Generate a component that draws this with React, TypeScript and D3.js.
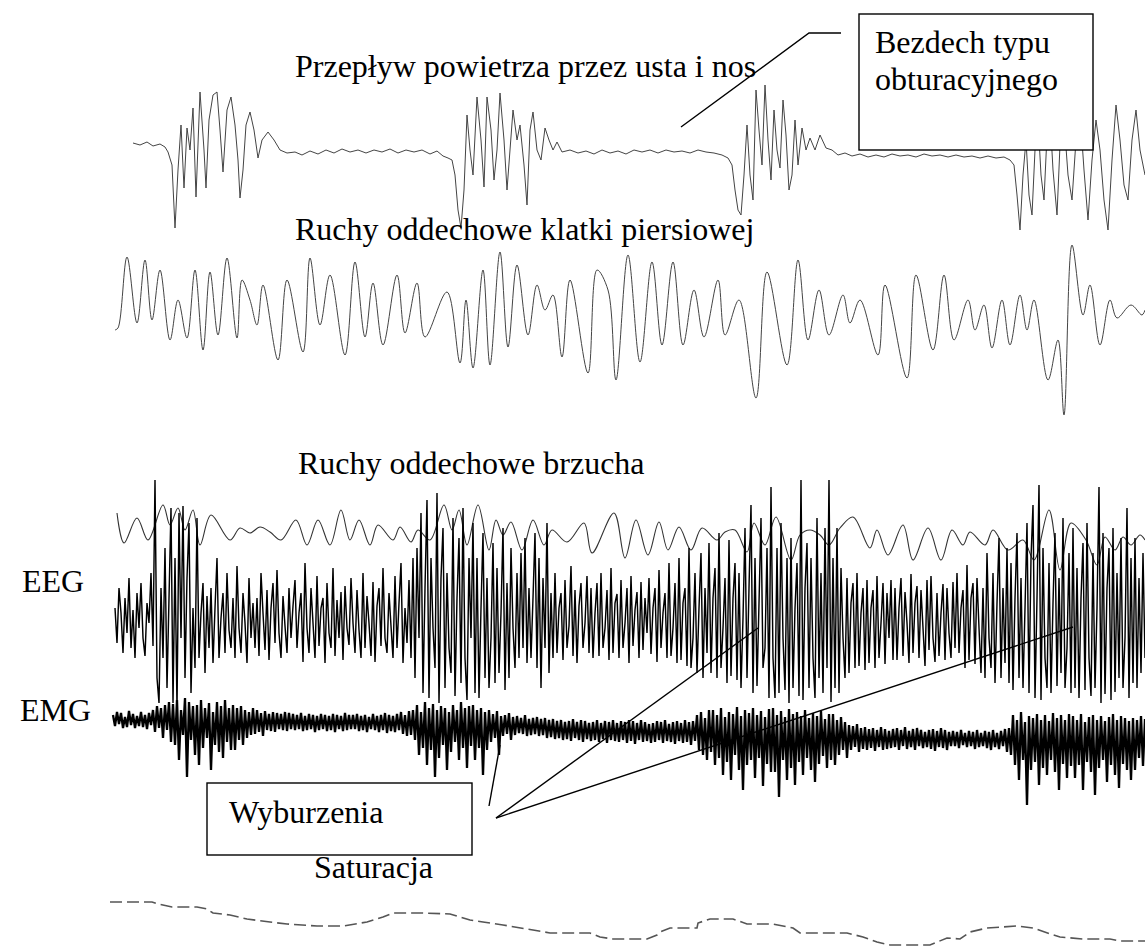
import React from 'react'
import * as d3 from 'd3'

const W = 1145
const H = 952

// time in samples (10 per second), values in arbitrary signal units (up = positive)
const flowT = [23, 30, 37, 43, 50, 55, 58, 62, 65, 68, 71, 74, 77, 80, 83, 86, 90, 94, 96, 99, 103, 107, 110, 113, 117, 121, 125, 128, 130, 133, 136, 140, 144, 148, 152, 158, 164, 170, 177, 185, 192, 200, 208, 216, 224, 232, 240, 248, 256, 264, 272, 280, 288, 296, 304, 312, 320, 327, 333, 338, 342, 345, 348, 351, 354, 357, 360, 363, 367, 371, 374, 377, 381, 384, 387, 390, 394, 397, 400, 403, 407, 410, 414, 417, 420, 423, 427, 431, 435, 439, 443, 447, 452, 460, 468, 476, 484, 492, 500, 508, 516, 524, 532, 540, 548, 556, 564, 572, 580, 588, 596, 604, 612, 618, 622, 625, 628, 631, 634, 637, 640, 643, 646, 649, 652, 655, 658, 661, 664, 667, 670, 673, 676, 679, 682, 685, 688, 692, 696, 700, 705, 710, 716, 722, 728, 735, 742, 750, 758, 766, 774, 782, 790, 798, 806, 814, 822, 830, 838, 846, 854, 862, 870, 878, 886, 894, 900, 904, 907, 910, 913, 916, 919, 922, 925, 928, 931, 934, 937, 940, 943, 947, 950, 954, 958, 962, 966, 970, 974, 978, 982, 986, 990, 994, 998, 1002, 1006, 1010, 1014, 1018, 1022, 1026, 1030, 1035]
const flowV = [2, 0, 3, -1, 1, -2, -7, -20, -83, -25, 20, -43, 17, -5, 37, -52, 53, -5, -43, 25, 50, 53, 15, -27, 35, 48, 20, -15, -53, -25, 20, 33, 15, -13, 5, 13, 5, -5, -8, -7, -10, -6, -9, -5, -8, -4, -7, -5, -8, -5, -7, -4, -8, -5, -7, -5, -9, -6, -11, -13, -15, -30, -65, -83, -45, 30, -5, -30, 48, 5, -42, 48, 15, -35, -5, 52, 5, -45, -5, 35, 5, 20, -20, -60, 15, 33, -5, -15, 17, 5, -5, 3, -7, -5, -8, -6, -9, -5, -8, -6, -9, -5, -7, -5, -8, -5, -7, -6, -8, -5, -7, -8, -10, -13, -20, -45, -65, -70, -30, 20, -30, -55, 55, 15, -20, 60, 5, -35, 35, -5, -23, 45, 10, -45, -30, 25, -20, 17, -5, 7, -5, 10, -3, -5, -10, -8, -11, -9, -12, -10, -12, -9, -11, -10, -12, -9, -11, -10, -12, -10, -12, -11, -13, -11, -13, -12, -15, -20, -50, -85, -30, 5, -50, -70, -5, 25, -30, -55, 10, 30, -25, -70, 0, 25, -30, -55, 5, 33, -25, -75, -15, 25, -5, -55, -85, -15, 40, 5, -40, -55, 5, 35, -5, -30]

const chestT = [5, 8, 17, 27, 35, 42, 50, 60, 68, 77, 85, 93, 100, 108, 117, 127, 132, 140, 147, 153, 168, 177, 193, 200, 210, 220, 235, 245, 255, 263, 273, 287, 295, 307, 315, 337, 350, 356, 363, 373, 380, 390, 398, 407, 418, 427, 435, 443, 452, 460, 478, 487, 498, 506, 518, 530, 542, 552, 563, 573, 584, 594, 608, 615, 629, 646, 657, 677, 688, 698, 709, 719, 733, 740, 750, 768, 775, 797, 806, 823, 834, 844, 858, 865, 874, 882, 892, 900, 910, 917, 924, 938, 948, 954, 962, 973, 980, 990, 1000, 1007, 1021, 1032, 1035]
const chestV = [-10, -8, 63, -3, 60, 0, 50, -20, 20, -18, 50, -30, 48, -15, 62, -18, 40, 20, -5, 35, -40, 40, -32, 62, -5, 45, -35, 58, -17, 37, -25, 45, -13, 37, -17, 28, -43, 20, -48, 50, -45, 68, -27, 55, -15, 35, 10, 25, -37, 40, -53, 50, 30, -60, 65, -42, 58, -25, 58, -25, 30, -17, 40, -15, 20, -78, 48, -45, 60, -20, 30, -15, 25, -3, 20, -35, 35, -58, 45, -30, 45, -20, 20, -10, 15, -28, 20, -25, 25, -10, 20, -60, -20, -95, 75, 5, 35, -25, 20, 2, 15, 5, 10]

const bellyT = [7, 14, 27, 38, 53, 60, 68, 75, 83, 90, 101, 120, 130, 140, 150, 160, 171, 186, 197, 208, 220, 231, 240, 249, 260, 268, 283, 290, 301, 308, 320, 334, 342, 349, 357, 368, 379, 386, 393, 401, 412, 423, 434, 442, 457, 474, 482, 504, 515, 526, 538, 549, 558, 569, 581, 592, 607, 615, 625, 637, 644, 655, 666, 681, 690, 700, 710, 719, 730, 743, 760, 767, 778, 793, 803, 818, 831, 842, 853, 860, 875, 883, 898, 913, 924, 939, 950, 961, 976, 987, 995, 1005, 1013, 1021, 1030, 1035]
const bellyV = [17, -13, 12, -10, 25, 5, 22, 0, 20, -15, 15, -10, 2, -3, 3, -2, -10, 10, -15, 10, -15, 20, -10, 10, -15, 5, -10, 3, -12, 0, -10, 25, 0, 20, -15, 25, -20, 10, -5, 8, -20, 10, -15, 0, -12, 7, -23, 17, -28, 10, -25, 8, -20, 3, -20, 2, -10, -2, 0, -22, 7, -15, 13, -30, -5, 0, -5, -15, 2, 13, -18, 0, -25, 5, -30, 2, -30, 0, -15, -2, -15, 0, -20, -10, -30, 20, -40, 7, -10, -35, -7, -20, -7, -15, -5, -10]

// EEG and EMG: evenly sampled
const eegV = [
  10, -25, 30, 5, -35, 20, -15, 40, -30, 8, -40, 25, -10, 35, -20, -38, 15, -5, 45, -28, 138, -60, -85, 30, -40, 70, -70, 20, 110, -85,
  60, -90, 105, -20, 112, -60, 40, 95, -75, 10, -50, 100, -40, 5, 35, -55, 22, -30, 30, -45, 10, 60, -40, 0, 25, -35, 45, -12, -30, 20,
  -40, 52, -10, -35, 25, -5, -45, 40, -20, 15, -30, 20, -38, 45, 5, -32, 28, -42, 10, 35, -25, 48, -15, -40, 22, -8, -35, 30, -20, 12,
  38, -30, 5, 25, -44, 55, -10, -35, 30, -5, -40, 42, -28, 10, 20, -45, 35, -15, -30, 50, -38, 18, -20, 26, -42, 32, -10, -27, 40, -5,
  -35, 28, -12, -40, 45, -30, 22, -5, -38, 36, -44, 12, 30, -28, 50, -20, -35, 25, -8, -40, 42, -30, 15, 55, -45, 10, -25, 38, -40, 60,
  -60, 70, -20, 105, -75, 30, 118, -80, 60, -10, -50, 125, -85, 40, 90, -70, 45, -30, -55, 100, -78, 20, 80, -65, 110, -40, -82, 60, -20, 95,
  -75, 60, -80, 10, 85, -60, 40, -70, -20, 75, -65, 50, -55, 5, 90, -72, 35, -60, 70, -10, -50, 45, -40, 65, -30, 80, -45, 30, -40, 20,
  85, -50, 60, -70, 40, -30, 95, -55, 25, -40, 45, -35, 10, 25, -42, 38, -30, -8, 52, -38, 28, -45, 12, 35, -30, -5, 42, -35, 30, -40,
  5, 35, -38, 45, -30, -10, 28, -42, 50, -35, 15, 24, -40, 38, -30, -5, 30, -45, 42, -28, 8, 26, -40, 36, -32, 20, -15, 40, -36, 10,
  30, -44, 48, -30, 5, 25, -40, 55, -38, -10, 35, -45, 60, -42, 15, 30, -48, 70, -50, -20, 45, -55, 10, 65, -60, 30, -35, 75, -55, 20,
  50, -60, 85, -50, -10, 40, -65, 78, -58, 20, 55, -62, 45, -70, 0, 90, -60, 30, 113, -75, 60, -68, 15, 100, -50, -30, 70, -80, 131, -40,
  -80, 70, -75, 95, -20, -72, 60, -85, 80, -70, 10, 55, -78, 138, -82, 30, 75, -70, 60, -40, -80, 100, -60, 45, -75, 90, -50, 138, -84, 60,
  -70, 90, -75, 50, -20, -60, 40, -55, 15, 35, -50, 45, -48, 5, 30, -52, 38, -45, 10, 28, -50, 42, -40, -5, 35, -46, 25, -20, 38, -42,
  30, -42, 10, 40, -38, 26, -5, -45, 44, -35, 15, 32, -40, 28, -10, -48, 38, -32, 42, -20, -44, 25, -38, 5, 34, -42, 30, -15, -40, 36,
  -30, 45, -35, 10, 28, -50, 53, -42, 20, 35, -46, 40, -10, -55, 30, -60, 65, -20, -50, 45, -65, 15, 80, -60, 30, -45, 70, -65, 55, -72,
  20, 85, -60, 40, -70, 10, 95, -75, 60, 113, -80, 20, 133, -82, 70, -40, -70, 55, -75, 15, 85, -68, 40, -55, 100, -70, -30, 65, -75, 90,
  -70, 50, -80, 20, 75, -72, 95, -40, -78, 65, -70, 10, 131, -85, 85, -76, 30, 70, -82, 90, -74, 45, -60, 80, -70, -20, 110, -80, 60, -65,
  80, -70, 40, -55, 65, -40,
]

const emgV = [
  5, -6, 8, -4, 7, -8, 3, -7, 9, -5, 6, -8, 4, -6, 8, -7, 5, -9, 7, -5, 10, -12, 14, -8, 12, -18, 15, -10, 18, -22,
  16, -25, 20, -40, 10, -15, 22, -57, 18, -20, 14, -35, 15, -45, 20, -28, 12, -18, 17, -50, 8, -25, 18, -32, 14, -38, 20, -22, 12, -30,
  15, -30, 12, -20, 14, -25, 10, -18, 8, -15, 12, -14, 10, -12, 7, -16, 9, -10, 6, -11, 8, -12, 7, -9, 6, -10, 8, -11, 7, -9,
  6, -10, 5, -9, 7, -11, 4, -10, 6, -9, 5, -12, 4, -10, 6, -9, 5, -11, 4, -10, 6, -12, 5, -9, 4, -11, 7, -10, 5, -9,
  5, -9, 6, -11, 4, -10, 5, -12, 3, -9, 6, -10, 4, -12, 5, -10, 7, -13, 5, -11, 4, -12, 6, -10, 8, -14, 5, -16, 9, -15,
  10, -20, 15, -35, 8, -28, 18, -45, 12, -30, 16, -57, 10, -38, 14, -25, 12, -50, 8, -32, 15, -22, 10, -40, 18, -28, 12, -48, 14, -26,
  15, -40, 10, -28, 12, -55, 8, -30, 10, -22, 6, -18, 9, -35, 4, -16, 5, -14, 7, -20, 3, -15, 4, -13, 2, -14, 5, -16, 1, -15,
  2, -14, 3, -16, 1, -15, 2, -18, 0, -17, 1, -19, -1, -18, 0, -20, -2, -19, -1, -21, 1, -18, -2, -20, 0, -22, -1, -19, -3, -21,
  -2, -20, 0, -22, -3, -19, -1, -23, -2, -20, 0, -21, -3, -22, -1, -20, -2, -23, 0, -21, -1, -24, -3, -20, 0, -22, -2, -21, -4, -23,
  -3, -22, -1, -20, -2, -23, 0, -21, -4, -22, -2, -24, -1, -21, -3, -23, 0, -22, -2, -25, -1, -21, 5, -30, 8, -35, 2, -40, 10, -32,
  10, -45, 5, -38, 12, -55, 3, -42, 8, -60, 6, -35, 13, -50, 4, -70, 10, -45, 7, -40, 12, -58, 5, -38, 9, -66, 3, -44, 11, -52,
  12, -52, 5, -77, 9, -40, 3, -60, 11, -48, 6, -65, 8, -42, 4, -55, 10, -38, 2, -50, 7, -62, 4, -44, 9, -36, 1, -48, 6, -40,
  6, -45, 0, -35, 3, -30, -2, -38, -5, -30, -6, -27, -4, -32, -8, -29, -7, -30, -9, -28, -8, -31, -10, -27, -7, -30, -9, -29, -11, -28,
  -9, -27, -8, -30, -10, -26, -7, -29, -11, -27, -9, -30, -8, -26, -10, -28, -12, -27, -10, -29, -9, -31, -11, -27, -8, -28, -10, -30, -12, -26,
  -11, -26, -12, -28, -10, -25, -13, -27, -11, -26, -12, -29, -10, -27, -13, -26, -11, -28, -12, -30, -10, -27, -13, -29, -11, -26, -9, -32, -8, -35,
  5, -45, 0, -60, 8, -40, -2, -85, 4, -50, 2, -42, 6, -65, 0, -48, 5, -55, -1, -40, 7, -52, 2, -70, 5, -44, 0, -58, 6, -46,
  4, -58, 0, -45, 6, -70, -2, -42, 3, -52, 5, -75, 0, -48, 4, -40, -1, -62, 3, -45, 6, -55, 0, -68, 4, -44, 2, -50, -1, -60,
  2, -50, 0, -38, 4, -46, 1,
]

// oxygen saturation, %
const satT = [0, 42, 48, 62, 87, 97, 103, 120, 137, 160, 177, 207, 233, 257, 273, 283, 293, 313, 340, 350, 360, 373, 393, 423, 440, 480, 490, 503, 537, 547, 550, 560, 587, 588, 600, 623, 637, 663, 683, 690, 737, 753, 767, 780, 820, 837, 850, 860, 877, 907, 923, 940, 950, 973, 1000, 1010, 1035]
const satV = [97.0, 97.0, 96.8, 96.5, 96.5, 96.3, 95.9, 95.7, 95.3, 95.0, 94.8, 94.6, 94.6, 95.0, 95.5, 95.9, 95.9, 95.9, 95.8, 95.5, 95.2, 95.0, 94.7, 94.2, 93.9, 93.9, 93.5, 93.3, 93.3, 93.7, 94.0, 94.4, 94.4, 94.9, 95.3, 95.3, 94.8, 94.8, 94.4, 93.9, 93.9, 93.5, 93.0, 92.7, 92.7, 93.4, 93.3, 94.0, 94.4, 94.6, 94.4, 93.8, 93.5, 93.3, 93.3, 93.1, 93.1]

const font = "'Liberation Serif', 'Times New Roman', serif"

const App = () => {
  const t = d3.scaleLinear().domain([0, 1035]).range([110, 1145])
  const band = (base: number) => d3.scaleLinear().domain([-100, 100]).range([base + 100, base - 100])

  const pairLine = (ts: number[], vs: number[], y: d3.ScaleLinear<number, number>, curve: d3.CurveFactory = d3.curveLinear) =>
    d3.line<number>().x((_, i) => t(ts[i])).y(v => y(v)).curve(curve)(vs) || ''

  const evenLine = (vs: number[], x0: number, x1: number, y: d3.ScaleLinear<number, number>) => {
    const x = d3.scaleLinear().domain([0, vs.length - 1]).range([x0, x1])
    return d3.line<number>().x((_, i) => x(i)).y(v => y(v))(vs) || ''
  }

  const ySat = d3.scaleLinear().domain([92, 98]).range([952, 892])

  const txt = { fontFamily: font, fontSize: 32, fill: '#000' }

  return (
    <svg width={W} height={H} style={{ position: 'absolute', left: 0, top: 0, background: '#fff' }}>
      <rect x={0} y={0} width={W} height={H} fill='#fff' />

      <path d={pairLine(flowT, flowV, band(145))} fill='none' stroke='#444' strokeWidth={1} />
      <path d={pairLine(chestT, chestV, band(320), d3.curveCatmullRom)} fill='none' stroke='#444' strokeWidth={1} />
      <path d={pairLine(bellyT, bellyV, band(530), d3.curveCatmullRom)} fill='none' stroke='#333' strokeWidth={1.1} />
      <path d={evenLine(eegV, 115, 1145, band(618))} fill='none' stroke='#000' strokeWidth={1.45} />
      <path d={evenLine(emgV, 113, 1145, band(720))} fill='none' stroke='#000' strokeWidth={2.3} />
      <path d={pairLine(satT, satV, ySat)} fill='none' stroke='#555' strokeWidth={1.6} strokeDasharray='12 5' />

      <text x={295} y={77} style={txt}>Przepływ powietrza przez usta i nos</text>
      <text x={295} y={240} style={txt}>Ruchy oddechowe klatki piersiowej</text>
      <text x={298} y={474} style={txt}>Ruchy oddechowe brzucha</text>
      <text x={22} y={592} style={txt}>EEG</text>
      <text x={20} y={721} style={txt}>EMG</text>
      <text x={314} y={878} style={txt}>Saturacja</text>

      <polyline points='681,127 809,33 841,33' fill='none' stroke='#000' strokeWidth={1.4} />
      <rect x={859} y={14} width={234} height={136} fill='#fff' stroke='#000' strokeWidth={1.4} />
      <text x={875} y={53} style={txt}>Bezdech typu</text>
      <text x={875} y={90} style={txt}>obturacyjnego</text>

      <line x1={489} y1={806} x2={500} y2={745} stroke='#000' strokeWidth={1.4} />
      <line x1={496} y1={818} x2={758} y2={628} stroke='#000' strokeWidth={1.4} />
      <line x1={496} y1={818} x2={1073} y2={627} stroke='#000' strokeWidth={1.4} />
      <rect x={207} y={783} width={265} height={72} fill='#fff' stroke='#000' strokeWidth={1.4} />
      <text x={229} y={823} style={txt}>Wyburzenia</text>
    </svg>
  )
}

export default App
